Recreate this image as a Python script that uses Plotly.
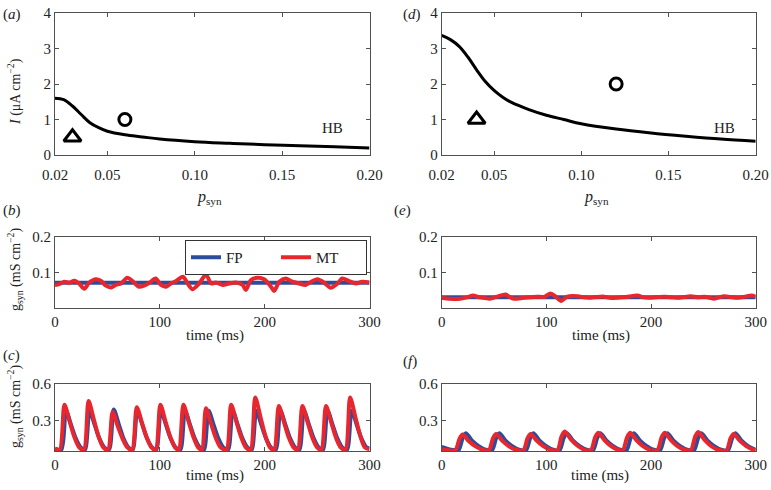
import plotly.graph_objects as go

# ---- values ----

# (a) HB curve
psyn_a = [0.02, 0.025, 0.03, 0.035, 0.04, 0.045, 0.05, 0.06, 0.07, 0.08, 0.10, 0.12, 0.14, 0.16, 0.18, 0.20]
hb_a = [1.60, 1.56, 1.38, 1.14, 0.91, 0.77, 0.67, 0.57, 0.51, 0.45, 0.375, 0.33, 0.29, 0.26, 0.23, 0.20]
tri_a = (0.03, 0.5)
circ_a = (0.06, 1.0)

# (d) HB curve
psyn_d = [0.02, 0.025, 0.03, 0.035, 0.04, 0.045, 0.05, 0.055, 0.06, 0.07, 0.08, 0.09, 0.10, 0.12, 0.14, 0.16, 0.18, 0.20]
hb_d = [3.37, 3.25, 3.06, 2.76, 2.40, 2.07, 1.82, 1.63, 1.48, 1.28, 1.12, 1.00, 0.88, 0.73, 0.62, 0.53, 0.45, 0.39]
tri_d = (0.04, 1.0)
circ_d = (0.12, 2.0)

# (b) g_syn, FP and MT
t_b_fp = [0, 300]
g_b_fp = [0.071, 0.071]
t_b_mt = [0, 4, 9, 13.5, 18.5, 23, 28, 32.5, 39, 44, 48.5, 53.5, 58, 63, 69, 74, 80, 85, 90, 96,
          101, 106, 110.5, 115.5, 122, 126.5, 131, 137.5, 144, 149, 153.5, 160, 166, 172.5, 179, 182,
          187, 193, 199.5, 206, 209, 214, 220, 226.5, 233, 239, 245.5, 250.5, 256.5, 263, 269.5, 274,
          280.5, 287, 293, 300]
g_b_mt = [0.065, 0.067, 0.074, 0.071, 0.077, 0.069, 0.054, 0.071, 0.081, 0.076, 0.063, 0.058, 0.065,
          0.069, 0.085, 0.076, 0.060, 0.063, 0.071, 0.083, 0.065, 0.060, 0.069, 0.076, 0.088, 0.069,
          0.053, 0.069, 0.094, 0.069, 0.072, 0.065, 0.069, 0.072, 0.065, 0.051, 0.079, 0.085, 0.081,
          0.060, 0.048, 0.074, 0.083, 0.074, 0.069, 0.065, 0.076, 0.081, 0.072, 0.057, 0.069, 0.083,
          0.076, 0.069, 0.074, 0.072]

# (c) g_syn, FP and MT
t_c_fp = [0, 6, 10.5, 15.5, 20, 24.5, 28.5, 33, 38, 42.5, 47, 51.5, 56, 61, 65.5, 70, 74, 78.5, 83.5, 88,
          92.5, 96.5, 101, 106, 110.5, 115, 119.5, 124, 129, 133.5, 138, 142, 146.5, 151.5, 156, 160.5,
          165, 169.5, 174.5, 179, 183.5, 187.5, 192, 197, 201.5, 206, 210.5, 215, 220, 224.5, 229,
          233, 237.5, 242.5, 247, 251.5, 255.5, 260, 265, 269.5, 274, 278.5, 283, 288, 292.5, 297, 300]
g_c_fp = [0.07, 0.06, 0.38, 0.26, 0.15, 0.08, 0.06, 0.38, 0.26, 0.15, 0.08, 0.06, 0.39, 0.265, 0.15, 0.08,
          0.06, 0.38, 0.26, 0.15, 0.08, 0.06, 0.38, 0.26, 0.15, 0.08, 0.06, 0.38, 0.26, 0.15, 0.08,
          0.06, 0.38, 0.26, 0.15, 0.08, 0.06, 0.38, 0.26, 0.15, 0.08, 0.06, 0.38, 0.26, 0.15, 0.08,
          0.06, 0.38, 0.26, 0.15, 0.08, 0.06, 0.38, 0.26, 0.15, 0.08, 0.06, 0.38, 0.26, 0.15, 0.08,
          0.06, 0.38, 0.26, 0.15, 0.08, 0.07]
t_c_mt = [0, 4.5, 9, 14, 18.5, 23, 27.5, 32, 37, 41.5, 46, 50.5, 55, 60, 64.5, 69, 73.5, 78, 83, 87.5,
          92, 96, 100.5, 105.5, 110, 114.5, 118, 122.5, 127.5, 132, 136.5, 140, 144, 149, 153.5, 158,
          163.5, 168, 173, 177.5, 182, 186.5, 191, 196, 200.5, 205, 209, 213.5, 218.5, 223, 227.5,
          231.5, 236, 241, 245.5, 250, 254, 258.5, 263.5, 268, 272.5, 277, 281.5, 286.5, 291, 295.5, 300]
g_c_mt = [0.07, 0.06, 0.43, 0.29, 0.164, 0.08, 0.06, 0.46, 0.31, 0.17, 0.08, 0.06, 0.37, 0.25, 0.15, 0.08,
          0.06, 0.41, 0.28, 0.16, 0.08, 0.06, 0.43, 0.29, 0.165, 0.08, 0.06, 0.43, 0.29, 0.165, 0.08,
          0.06, 0.40, 0.27, 0.155, 0.08, 0.06, 0.43, 0.29, 0.165, 0.08, 0.06, 0.49, 0.33, 0.18, 0.08,
          0.06, 0.42, 0.285, 0.16, 0.08, 0.06, 0.42, 0.285, 0.16, 0.08, 0.06, 0.42, 0.285, 0.16, 0.08,
          0.06, 0.49, 0.33, 0.18, 0.08, 0.065]

# (e) g_syn, FP and MT
t_e_fp = [0, 300]
g_e_fp = [0.030, 0.030]
t_e_mt = [0, 8, 17.5, 24, 30, 35, 40, 46, 53, 61, 65, 69, 78.5, 85, 91, 98, 104, 109, 114, 120,
          130, 136, 142, 148, 155, 162, 168, 176, 187, 193, 200, 207, 213, 219, 225, 232, 238, 245,
          251, 256, 260, 265, 270, 276, 283, 290, 296, 300]
g_e_mt = [0.029, 0.026, 0.026, 0.030, 0.035, 0.031, 0.029, 0.026, 0.032, 0.038, 0.031, 0.026, 0.029,
          0.030, 0.032, 0.031, 0.041, 0.032, 0.020, 0.032, 0.033, 0.030, 0.029, 0.031, 0.032, 0.028,
          0.029, 0.031, 0.035, 0.030, 0.029, 0.031, 0.032, 0.030, 0.029, 0.031, 0.033, 0.030, 0.032,
          0.029, 0.026, 0.030, 0.033, 0.031, 0.029, 0.032, 0.035, 0.032]

# (f) g_syn, FP and MT
t_f_fp = [0, 5, 11, 16, 20, 23, 29, 35, 42, 48, 52, 55, 61, 67, 74, 80.5, 84.5, 87.5, 93.5, 99.5, 106.5,
          112.5, 116.5, 119.5, 125.5, 131.5, 138.5, 144.5, 148.5, 151.5, 157.5, 163.5, 170.5,
          176.5, 180.5, 183.5, 189.5, 195.5, 202.5, 208.5, 212.5, 215.5, 221.5, 227.5, 234.5,
          241, 245, 248, 254, 260, 267, 273.5, 277.5, 280.5, 286.5, 292.5, 300]
g_f_fp = [0.083, 0.07, 0.058, 0.055, 0.155, 0.195, 0.135, 0.092, 0.06, 0.055, 0.155, 0.195, 0.135, 0.092,
          0.06, 0.055, 0.155, 0.195, 0.135, 0.092, 0.06, 0.055, 0.155, 0.195, 0.135, 0.092, 0.06,
          0.055, 0.155, 0.195, 0.135, 0.092, 0.06, 0.055, 0.155, 0.195, 0.135, 0.092, 0.06,
          0.055, 0.155, 0.195, 0.135, 0.092, 0.06, 0.055, 0.155, 0.195, 0.135, 0.092, 0.06,
          0.055, 0.155, 0.195, 0.135, 0.092, 0.06]
t_f_mt = [0, 6, 13, 17, 20, 26, 32, 39, 45, 49, 52, 58, 64, 71, 78, 82, 85, 91, 97, 104,
          110.5, 114.5, 117.5, 123.5, 129.5, 136.5, 142.5, 146.5, 149.5, 155.5, 161.5, 168.5,
          173, 177, 180, 186, 192, 199, 206, 210, 213, 219, 225, 232, 238, 242, 245, 251, 257, 264,
          272, 276, 279, 285, 291, 298, 300]
g_f_mt = [0.065, 0.056, 0.055, 0.15, 0.185, 0.13, 0.09, 0.06, 0.055, 0.155, 0.19, 0.133, 0.09, 0.06,
          0.055, 0.155, 0.19, 0.133, 0.09, 0.06, 0.055, 0.17, 0.21, 0.145, 0.095, 0.06,
          0.055, 0.16, 0.20, 0.14, 0.092, 0.06, 0.055, 0.16, 0.20, 0.14, 0.092, 0.06,
          0.055, 0.16, 0.20, 0.14, 0.092, 0.06, 0.055, 0.165, 0.205, 0.143, 0.093, 0.06,
          0.055, 0.155, 0.19, 0.133, 0.09, 0.06, 0.058]

psyn_ticks = [0.02, 0.05, 0.10, 0.15, 0.20]
psyn_ticktext = ['0.02', '0.05', '0.10', '0.15', '0.20']

# ---- style ----
# body margin is removed in the page (post_script), so the figure fills the window
W, H = 771, 490
FONT = '"Liberation Serif", "Times New Roman", Times, "DejaVu Serif", serif'
TXT = '#222222'
AX = '#505050'
BLUE = '#2c4c9c'
RED = '#e8262e'


# positions below are in window pixels
def px(x, y):
    return x / W, 1 - y / H


def xdom(x0, x1):
    return [x0 / W, x1 / W]


def ydom(y0, y1):
    return [1 - y1 / H, 1 - y0 / H]


def axis(domain, anchor, **kw):
    d = dict(domain=domain, anchor=anchor, showline=True, linecolor=AX, linewidth=1,
             mirror='ticks', ticks='inside', ticklen=4, tickcolor=AX, showgrid=False,
             zeroline=False, automargin=False, ticklabeloverflow='allow',
             tickfont=dict(family=FONT, size=15, color=TXT))
    d.update(kw)
    return d


fig = go.Figure()

# top panels
for ax_id, xs, ys, tri, circ in [('', psyn_a, hb_a, tri_a, circ_a), ('4', psyn_d, hb_d, tri_d, circ_d)]:
    xa, ya = 'x' + ax_id, 'y' + ax_id
    fig.add_trace(go.Scatter(x=xs, y=ys, mode='lines', line=dict(color='black', width=3, shape='spline'),
                             xaxis=xa, yaxis=ya, showlegend=False))
    fig.add_trace(go.Scatter(x=[tri[0]], y=[tri[1]], mode='markers',
                             marker=dict(symbol='triangle-up-open', size=15, color='black', line=dict(width=3)),
                             xaxis=xa, yaxis=ya, showlegend=False))
    fig.add_trace(go.Scatter(x=[circ[0]], y=[circ[1]], mode='markers',
                             marker=dict(symbol='circle-open', size=12, color='black', line=dict(width=3)),
                             xaxis=xa, yaxis=ya, showlegend=False))

# g_syn panels
panels = [('2', t_b_fp, g_b_fp, t_b_mt, g_b_mt, True),
          ('3', t_c_fp, g_c_fp, t_c_mt, g_c_mt, False),
          ('5', t_e_fp, g_e_fp, t_e_mt, g_e_mt, False),
          ('6', t_f_fp, g_f_fp, t_f_mt, g_f_mt, False)]
for ax_id, tf, gf, tm, gm, leg in panels:
    fig.add_trace(go.Scatter(x=tf, y=gf, mode='lines', name='FP',
                             line=dict(color=BLUE, width=4, shape='spline', smoothing=0.8),
                             xaxis='x' + ax_id, yaxis='y' + ax_id, showlegend=leg))
    fig.add_trace(go.Scatter(x=tm, y=gm, mode='lines', name='MT',
                             line=dict(color=RED, width=4, shape='spline', smoothing=0.8),
                             xaxis='x' + ax_id, yaxis='y' + ax_id, showlegend=leg))

left = xdom(55, 369.5)
right = xdom(441.7, 755.7)
top = ydom(13, 155)
mid = ydom(237, 308)
bot = ydom(384, 451)

layout_axes = dict(
    xaxis=axis(left, 'y', range=[0.02, 0.20], tickvals=psyn_ticks, ticktext=psyn_ticktext, ticklabelstandoff=6),
    yaxis=axis(top, 'x', range=[0, 4], tickvals=[0, 1, 2, 3, 4]),
    xaxis4=axis(right, 'y4', range=[0.02, 0.20], tickvals=psyn_ticks, ticktext=psyn_ticktext, ticklabelstandoff=6),
    yaxis4=axis(top, 'x4', range=[0, 4], tickvals=[0, 1, 2, 3, 4]),
    xaxis2=axis(left, 'y2', range=[0, 300], tickvals=[0, 100, 200, 300]),
    yaxis2=axis(mid, 'x2', range=[0, 0.2], tickvals=[0.1, 0.2]),
    xaxis5=axis(right, 'y5', range=[0, 300], tickvals=[0, 100, 200, 300]),
    yaxis5=axis(mid, 'x5', range=[0, 0.2], tickvals=[0.1, 0.2]),
    xaxis3=axis(left, 'y3', range=[0, 300], tickvals=[0, 100, 200, 300]),
    yaxis3=axis(bot, 'x3', range=[0.05, 0.6], tickvals=[0.3, 0.6]),
    xaxis6=axis(right, 'y6', range=[0, 300], tickvals=[0, 100, 200, 300]),
    yaxis6=axis(bot, 'x6', range=[0.05, 0.6], tickvals=[0.3, 0.6]),
)

annotations = []


def note(text, x, y, angle=0, size=14, anchor='center'):
    ax_, ay_ = px(x, y)
    annotations.append(dict(text=text, x=ax_, y=ay_, xref='paper', yref='paper', showarrow=False,
                            textangle=angle, xanchor=anchor, yanchor='middle',
                            font=dict(family=FONT, size=size, color=TXT)))


# panel letters
note('(<i>a</i>)', 1, 14, size=15, anchor='left')
note('(<i>b</i>)', 1, 210, size=15, anchor='left')
note('(<i>c</i>)', 1, 355, size=15, anchor='left')
note('(<i>d</i>)', 401, 14, size=15, anchor='left')
note('(<i>e</i>)', 392, 210, size=15, anchor='left')
note('(<i>f</i>)', 401, 361, size=15, anchor='left')

# axis titles
note('<i>I</i> (μA cm<sup>−2</sup>)', 14, 92, angle=-90, size=14)
note('g<sub>syn</sub> (mS cm<sup>−2</sup>)', 15, 269, angle=-90, size=14)
note('g<sub>syn</sub> (mS cm<sup>−2</sup>)', 15, 406, angle=-90, size=14)
note('<i>p</i><sub>syn</sub>', 210, 198, size=16)
note('<i>p</i><sub>syn</sub>', 596, 198, size=16)
note('time (ms)', 215, 335, size=15)
note('time (ms)', 601, 335, size=15)
note('time (ms)', 215, 475, size=15)
note('time (ms)', 600, 475, size=15)

# HB labels
annotations.append(dict(text='HB', x=0.179, y=0.76, xref='x', yref='y', showarrow=False,
                        font=dict(family=FONT, size=15, color=TXT)))
annotations.append(dict(text='HB', x=0.182, y=0.76, xref='x4', yref='y4', showarrow=False,
                        font=dict(family=FONT, size=15, color=TXT)))

lx, ly = px(367, 240)
fig.update_layout(
    width=W, height=H,
    margin=dict(l=0, r=0, t=0, b=0, pad=0, autoexpand=False),
    paper_bgcolor='white', plot_bgcolor='white',
    font=dict(family=FONT, size=14, color=TXT),
    annotations=annotations,
    legend=dict(orientation='h', x=lx, xanchor='right', y=ly, yanchor='top',
                bgcolor='white', bordercolor='#333333', borderwidth=1, entrywidth=45,
                font=dict(family=FONT, size=15, color=TXT)),
    **layout_axes
)

fig.write_html("out.html", config={'displayModeBar': False},
               post_script="document.body.style.margin = '0px'; document.body.style.overflow = 'hidden';")
